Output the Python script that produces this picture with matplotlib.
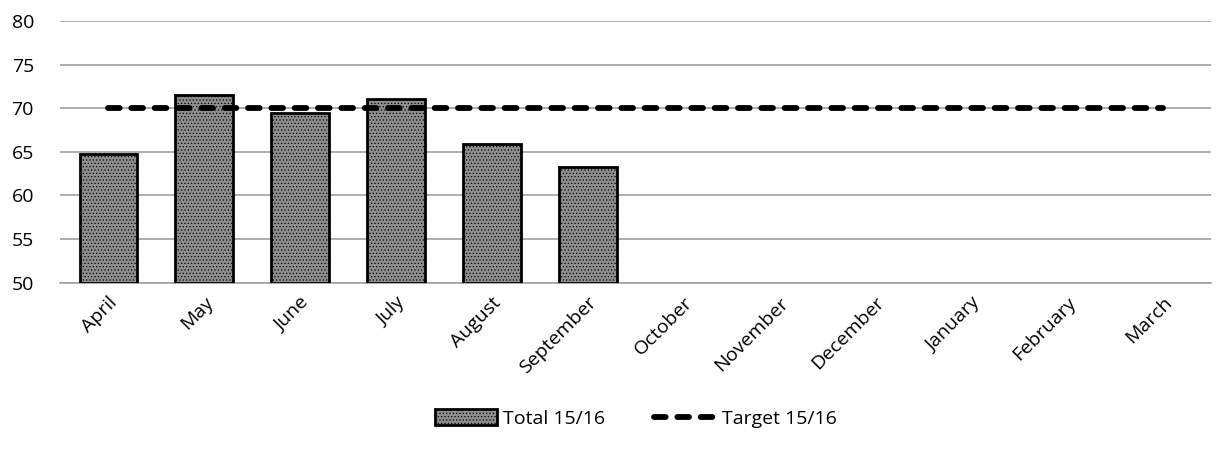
import matplotlib.pyplot as plt
import numpy as np

months = ['April', 'May', 'June', 'July', 'August', 'September',
          'October', 'November', 'December', 'January', 'February', 'March']
total = [64.7, 71.5, 69.4, 71.1, 65.9, 63.3]
target = [70] * 12

plt.rcParams['font.family'] = ['Open Sans', 'DejaVu Sans']
plt.rcParams['hatch.color'] = '#e0e0e0'
plt.rcParams['hatch.linewidth'] = 0.5

fig, ax = plt.subplots(figsize=(12.32, 4.67), dpi=100)
fig.subplots_adjust(left=0.049, right=0.983, top=0.955, bottom=0.395)

x = np.arange(len(months))
bars = ax.bar(x[:len(total)], [v - 50 for v in total], bottom=50, width=0.6,
              color='#8e8e8e', edgecolor='black', linewidth=2, hatch='.....',
              label='Total 15/16', zorder=3)
line, = ax.plot(x, target, color='black', linewidth=4.2, linestyle=(0, (2.0, 2.0)),
                dash_capstyle='round', label='Target 15/16', zorder=4)

ax.set_xlim(-0.5, len(months) - 0.5)
ax.set_ylim(50, 80)
ax.set_yticks(range(50, 81, 5))
ax.set_xticks(x)
ax.set_xticklabels(months, rotation=45, ha='right', rotation_mode='anchor')
ax.tick_params(axis='both', length=0, labelsize=14)
ax.tick_params(axis='y', pad=19)
ax.tick_params(axis='x', pad=8)
ax.grid(axis='y', color='#a0a0a0', linewidth=1.2, zorder=0)
for s in ['top', 'right', 'left']:
    ax.spines[s].set_visible(False)
ax.spines['bottom'].set_color('#a0a0a0')
ax.spines['bottom'].set_linewidth(1.2)

ax.legend(handles=[bars, line], loc='center', bbox_to_anchor=(0.5, -0.52), ncol=2,
          frameon=False, fontsize=14, handlelength=3.2, handleheight=0.9,
          handletextpad=0.3, columnspacing=2.5)

fig.savefig('out.png')
